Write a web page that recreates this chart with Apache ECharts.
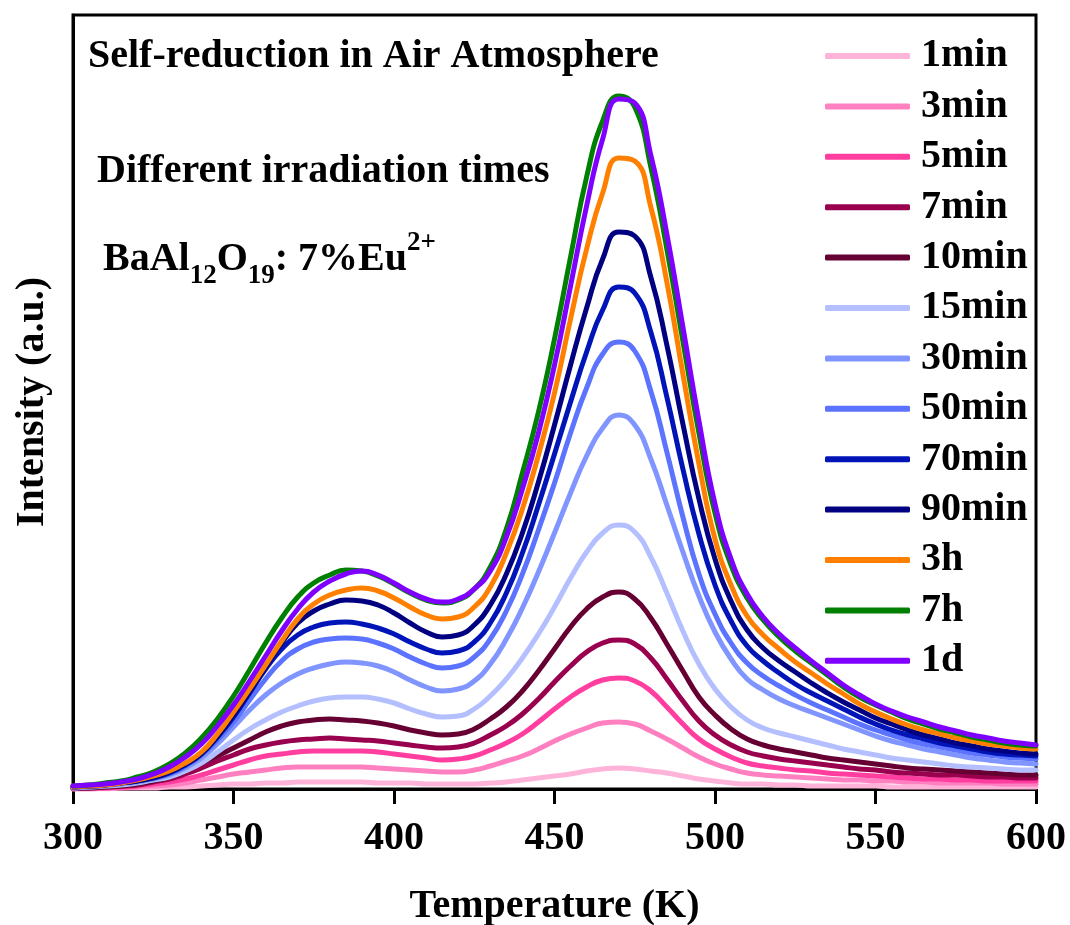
<!DOCTYPE html>
<html>
<head>
<meta charset="utf-8">
<script src="https://cdn.jsdelivr.net/npm/echarts@6/dist/echarts.min.js"></script>
<style>
  html, body { margin: 0; padding: 0; background: #fff; }
  #chart { width: 1070px; height: 925px; }
</style>
</head>
<body>
<div id="chart"></div>
<script>
// temperature grid (K), 5 K steps
var temps = [300,305,310,315,320,325,330,335,340,345,
             350,355,360,365,370,375,380,385,390,395,
             400,405,410,415,420,425,430,435,440,445,
             450,455,460,465,470,475,480,485,490,495,
             500,505,510,515,520,525,530,535,540,545,
             550,555,560,565,570,575,580,585,590,595,
             600];

// intensities (a.u.)
var m1 = [0,0,0,1,1,1,2,2,3,4,
          5,5,6,6,7,7,7,7,7,6,
          6,6,5,5,5,5,6,7,9,11,
          13,15,18,20,21,20,18,16,13,10,
          8,6,5,5,4,4,3,3,3,3,
          3,2,2,2,2,2,2,2,2,2,
          2];
var m3 = [0,0,1,1,2,3,4,6,9,12,
          15,17,19,21,22,22,22,22,22,21,
          20,19,18,17,17,19,23,28,33,40,
          48,55,61,66,67,65,58,50,41,32,
          25,20,16,14,13,12,11,10,9,9,
          8,8,7,7,6,6,6,6,5,5,
          5];
var m5 = [0,1,1,2,3,5,7,10,14,19,
          24,29,33,35,37,38,38,38,38,37,
          35,33,31,29,30,33,39,46,55,67,
          80,92,102,109,111,108,98,82,65,50,
          40,32,26,23,21,19,18,16,15,14,
          13,12,11,10,10,9,9,8,8,8,
          8];
var m7 = [1,1,2,3,4,7,10,15,21,28,
          34,40,44,47,49,50,51,50,49,48,
          46,44,42,41,42,46,54,63,75,90,
          107,123,137,146,149,145,131,110,88,68,
          54,44,37,33,30,28,26,24,22,20,
          19,17,16,15,14,14,13,12,12,11,
          11];
var m10 = [1,1,2,3,5,8,12,18,26,33,
           41,49,57,63,67,69,70,69,68,66,
           63,59,56,54,55,60,70,82,98,118,
           140,162,180,192,197,190,171,145,118,92,
           74,60,50,44,40,37,34,31,29,27,
           25,23,21,20,19,18,17,16,15,14,
           14];
var m15 = [1,2,3,4,6,9,12,18,26,37,
           49,60,69,77,83,88,91,92,92,90,
           86,80,75,72,73,80,93,110,131,155,
           182,211,237,256,264,257,232,196,158,125,
           100,82,69,61,56,52,48,44,40,37,
           34,31,29,27,25,23,22,21,20,19,
           19];
var m30 = [1,2,3,5,7,10,14,21,31,45,
           62,79,94,106,115,121,125,127,126,123,
           117,109,102,98,100,108,125,150,181,217,
           256,296,333,361,374,364,330,284,237,193,
           157,130,110,99,90,83,77,71,65,59,
           53,48,44,40,37,34,31,29,27,26,
           25];
var m50 = [2,3,4,6,8,11,15,23,34,49,
           67,89,110,128,140,147,150,151,150,146,
           140,132,125,121,123,132,150,178,215,259,
           306,356,401,435,447,438,398,337,272,215,
           175,146,126,113,103,94,86,79,72,65,
           59,54,49,45,42,39,36,34,32,31,
           30];
var m70 = [2,3,4,6,8,11,16,24,35,52,
           72,96,120,140,154,162,166,167,165,161,
           155,147,140,136,138,147,166,196,236,284,
           335,387,437,479,502,496,457,392,320,255,
           204,168,143,128,116,105,96,88,80,72,
           65,59,54,50,46,43,40,37,35,34,
           33];
var m90 = [2,3,4,6,8,12,17,25,36,53,
           74,98,122,146,166,178,185,189,188,184,
           176,166,157,152,154,164,184,215,256,307,
           364,424,481,530,557,553,512,444,365,290,
           230,188,159,141,128,117,106,96,87,79,
           71,65,59,54,50,46,43,40,38,36,
           35];
var h3 = [2,3,4,6,9,13,18,26,37,55,
          77,100,124,148,170,185,194,199,201,198,
          191,182,174,170,172,182,202,236,280,334,
          396,470,540,596,631,628,582,507,415,325,
          250,204,173,154,140,127,116,105,95,85,
          77,70,64,59,55,51,48,45,43,41,
          40];
var h7 = [3,4,6,8,12,17,25,36,51,70,
          93,119,146,171,192,206,214,219,218,213,
          205,196,189,186,189,200,222,260,316,377,
          450,532,612,668,693,682,622,540,448,356,
          276,224,191,169,152,138,126,114,102,92,
          84,77,70,65,60,56,52,49,46,44,
          43];
var d1 = [3,4,5,7,10,15,22,32,45,63,
          84,108,133,158,180,197,208,215,218,214,
          206,197,190,187,190,200,218,252,300,356,
          424,503,583,650,690,686,634,555,462,368,
          285,230,195,172,155,141,128,116,104,94,
          85,78,72,67,62,58,54,51,48,46,
          44];

var names  = ['1min','3min','5min','7min','10min','15min','30min','50min','70min','90min','3h','7h','1d'];
var values = [m1, m3, m5, m7, m10, m15, m30, m50, m70, m90, h3, h7, d1];
var colors = ['#ffb3d9','#ff80c0','#ff3ea0','#99004d','#660033','#b3bfff','#8095ff','#5c73ff','#0014b8','#000080','#ff8000','#008000','#8000ff'];
var xTicks = [300, 350, 400, 450, 500, 550, 600];

var FONT = '"Liberation Serif", "Times New Roman", serif';

var chart = echarts.init(document.getElementById('chart'));

var series = names.map(function (n, i) {
    return {
        name: n,
        type: 'line',
        smooth: 0.5,
        symbol: 'none',
        color: colors[i],
        lineStyle: { width: 5, color: colors[i], cap: 'round', join: 'round' },
        data: temps.map(function (t, j) { return [t, values[i][j]]; })
    };
});

var option = {
    backgroundColor: '#fff',
    animation: false,
    grid: {
        left: 73, right: 34, top: 15, bottom: 136,
        outerBoundsMode: 'none', containLabel: false,
        show: true, borderColor: '#000', borderWidth: 3, backgroundColor: 'transparent'
    },
    legend: {
        orient: 'vertical',
        left: 820, top: 31,
        icon: 'roundRect',
        itemWidth: 85, itemHeight: 6, itemGap: 10.4,
        data: names,
        textStyle: {
            fontFamily: FONT, fontWeight: 'bold', fontSize: 40, color: '#000',
            lineHeight: 40, padding: [0, 0, 0, 6]
        }
    },
    xAxis: {
        type: 'value',
        min: xTicks[0], max: xTicks[xTicks.length - 1], interval: 50,
        name: 'Temperature (K)',
        nameLocation: 'middle', nameGap: 98,
        nameTextStyle: { fontFamily: FONT, fontWeight: 'bold', fontSize: 40, color: '#000' },
        axisLine: { show: true, lineStyle: { color: '#000', width: 3 } },
        axisTick: { show: true, inside: false, length: 15, lineStyle: { color: '#000', width: 3 } },
        axisLabel: { margin: 30, fontFamily: FONT, fontWeight: 'bold', fontSize: 40, color: '#000' },
        splitLine: { show: false }
    },
    yAxis: {
        type: 'value',
        min: 0, max: 774,
        name: 'Intensity (a.u.)',
        nameLocation: 'middle', nameGap: 20,
        nameTextStyle: { fontFamily: FONT, fontWeight: 'bold', fontSize: 40, color: '#000' },
        axisLine: { show: true, lineStyle: { color: '#000', width: 3 } },
        axisTick: { show: false },
        axisLabel: { show: false },
        splitLine: { show: false }
    },
    graphic: [
        {
            type: 'text', left: 88, top: 37,
            style: { text: 'Self-reduction in Air Atmosphere', font: 'bold 40px ' + FONT, fill: '#000' }
        },
        {
            type: 'text', left: 97, top: 152,
            style: { text: 'Different irradiation times', font: 'bold 40px ' + FONT, fill: '#000' }
        },
        {
            // chemical formula with sub- and superscripts
            type: 'text', left: 103, top: 230,
            style: {
                text: '{z| }{a|BaAl}{b|12}{a|O}{b|19}{a|: 7%Eu}{c|2+}',
                rich: {
                    z: { fontSize: 1, lineHeight: 60, width: 0 },
                    a: { font: 'bold 40px ' + FONT, fill: '#000', lineHeight: 40, verticalAlign: 'middle' },
                    b: { font: 'bold 27px ' + FONT, fill: '#000', lineHeight: 27, verticalAlign: 'bottom' },
                    c: { font: 'bold 27px ' + FONT, fill: '#000', lineHeight: 27, verticalAlign: 'top' }
                }
            }
        }
    ],
    series: series
};

chart.setOption(option);
</script>
</body>
</html>
